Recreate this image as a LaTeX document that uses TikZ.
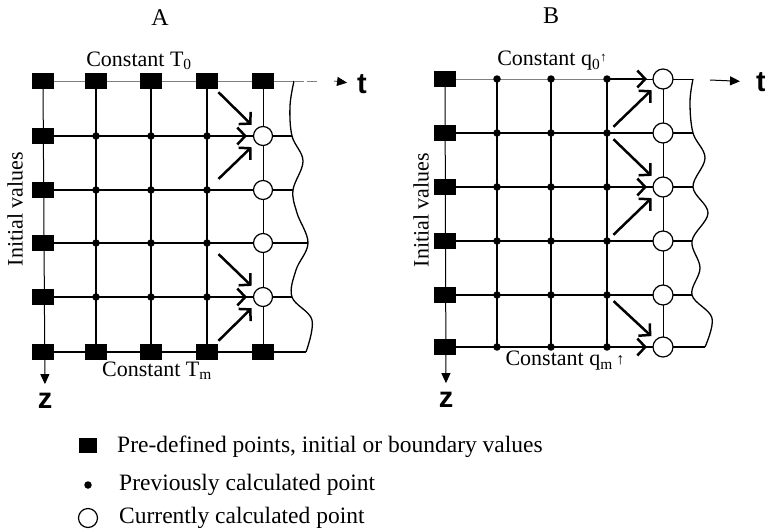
\documentclass[tikz,border=0pt]{standalone}
\usepackage{fontspec}
\setmainfont{Liberation Serif}
\newfontfamily\sansf{Liberation Sans}
\usetikzlibrary{arrows.meta}
\pgfdeclarelayer{bg}
\pgfsetlayers{bg,main}
\tikzset{
  sq/.style={rectangle, fill=black, minimum width=22pt, minimum height=16pt, inner sep=0pt},
  dotp/.style={circle, fill=black, minimum size=7.5pt, inner sep=0pt},
  cur/.style={circle, draw=black, fill=white, line width=1.2pt, minimum size=19pt, inner sep=0pt},
  gridl/.style={line width=1.8pt},
  thinl/.style={line width=1pt},
  topl/.style={line width=1pt, gray},
  wave/.style={line width=1.3pt},
  arr/.style={line width=2.5pt, -{Straight Barb[length=8pt,width=17pt,line width=2.5pt]}, shorten >=16pt},
  tip/.style={-{Triangle[length=10pt,width=9pt,color=black]}},
  lab/.style={inner sep=0pt, font=\fontsize{22}{25}\selectfont},
  leg/.style={inner sep=0pt, anchor=base west, font=\fontsize{23.5}{26}\selectfont},
  axl/.style={inner sep=0pt, font=\sansf\bfseries\fontsize{29}{32}\selectfont},
}
\begin{document}
\begin{tikzpicture}[x=1pt,y=-1pt]
\useasboundingbox (0,0) rectangle (765,530);
% ---------- panel A nodes ----------
\foreach \x [count=\i from 0] in {43,96,151,207,263}{
  \foreach \y [count=\j from 0] in {81,136,190,243,297,352}{
    \ifnum\j=0 \node[sq] (A-\i-\j) at (\x,\y) {};
    \else\ifnum\j=5 \node[sq] (A-\i-\j) at (\x,\y) {};
    \else\ifnum\i=0 \node[sq] (A-\i-\j) at (\x,\y) {};
    \else\ifnum\i=4 \node[cur] (A-\i-\j) at (\x,\y) {};
    \else \node[dotp] (A-\i-\j) at (\x,\y) {};
    \fi\fi\fi\fi
  }
}
% ---------- panel B nodes ----------
\foreach \x [count=\i from 0] in {445,497,551,607,663}{
  \foreach \y [count=\j from 0] in {79,133,187,241,295,347}{
    \ifnum\i=0 \node[sq] (B-\i-\j) at (\x,\y) {};
    \else\ifnum\i=4 \node[cur, minimum size=20pt] (B-\i-\j) at (\x,\y) {};
    \else \node[dotp] (B-\i-\j) at (\x,\y) {};
    \fi\fi
  }
}
% wavy line points
\coordinate (WA0) at (294,81);  \coordinate (WA1) at (292,136);
\coordinate (WA2) at (293,190); \coordinate (WA3) at (308,243);
\coordinate (WA4) at (292,297); \coordinate (WA5) at (306,352);
\coordinate (WB0) at (693,79);  \coordinate (WB1) at (693,133);
\coordinate (WB2) at (693,187); \coordinate (WB3) at (692,241);
\coordinate (WB4) at (692,295); \coordinate (WB5) at (705,347);
% labels
\node[lab, font=\fontsize{24}{26}\selectfont] (lA) at (160,18) {A};
\node[lab, font=\fontsize{24}{26}\selectfont] (lB) at (551,16) {B};
\node[lab] (cT0) at (139,61) {Constant T\textsubscript{0}};
\node[lab] (cTm) at (157,371) {Constant T\textsubscript{m}};
\node[lab] (cq0) at (552,61) {Constant q\textsubscript{0}\raisebox{4pt}{\fontsize{13}{13}\selectfont ↑}};
\node[lab] (cqm) at (565,361) {Constant q\textsubscript{m}\,\raisebox{1pt}{\fontsize{16}{16}\selectfont ↑}};
\node[lab, rotate=90] (ivA) at (15,209) {Initial values};
\node[lab, rotate=90] (ivB) at (421,210) {Initial values};
\node[axl] (tA) at (362,84) {t};
\node[axl] (tB) at (761,82) {t};
\node[axl] (zA) at (45,401) {z};
\node[axl] (zB) at (446,400) {z};
\coordinate (tA1) at (317,81);
\coordinate (tA2) at (334,81);
\coordinate (tB1) at (710,80);
% legend
\node[sq, minimum width=18pt, minimum height=15pt] (Lsq) at (88,445) {};
\node[leg] (L1) at (117,452) {Pre-defined points, initial or boundary values};
\node[dotp] (Ldot) at (88,485) {};
\node[leg] (L2) at (119,490) {Previously calculated point};
\node[cur] (Lcur) at (88,518) {};
\node[leg] (L3) at (119,523) {Currently calculated point};

\begin{pgfonlayer}{bg}
% ---- panel A lines ----
\draw[topl] (A-0-0.center) -- (WA0);
\foreach \j in {1,...,5}{ \draw[gridl] (A-0-\j.center) -- (WA\j); }
\draw[thinl, tip, shorten >=9pt] (A-0-0.center) -- (zA.north);
\foreach \i in {1,2,3}{ \draw[gridl] (A-\i-0.center) -- (A-\i-5.center); }
\draw[thinl] (A-4-0.center) -- (A-4-5.center);
\draw[wave] plot[smooth, tension=0.6] coordinates {(WA0) (290,106) (WA1) (303,161) (WA2) (297,213) (WA3) (296,270) (WA4) (312,320) (WA5)};
\draw[topl, dash pattern=on 10pt off 3pt] (WA0) -- (tA1);
\draw[tip, line width=0.6pt, shorten >=10pt] (tA2) -- (tA.west);
% ---- panel B lines ----
\draw[topl] (B-0-0.center) -- (B-3-0.center);
\draw[thinl] (B-3-0.center) -- (WB0);
\foreach \j in {1,...,5}{ \draw[gridl] (B-0-\j.center) -- (WB\j); }
\draw[thinl, tip, shorten >=9pt] (B-0-0.center) -- (zB.north);
\foreach \i in {1,2,3}{ \draw[gridl] (B-\i-0.center) -- (B-\i-5.center); }
\draw[thinl] (B-4-0.center) -- (B-4-5.center);
\draw[wave] plot[smooth, tension=0.6] coordinates {(WB0) (690,102) (WB1) (705,158) (WB2) (708,213) (WB3) (700,268) (WB4) (712,318) (WB5)};
\draw[thinl, tip, shorten >=16pt] (tB1) -- (tB.west);
\end{pgfonlayer}
% ---- arrows A ----
\draw[arr, shorten <=16pt] (A-3-0.center) -- (A-4-1.center);
\draw[arr] (A-3-1.center) -- (A-4-1.center);
\draw[arr, shorten <=16pt] (A-3-2.center) -- (A-4-1.center);
\draw[arr, shorten <=16pt] (A-3-3.center) -- (A-4-4.center);
\draw[arr] (A-3-4.center) -- (A-4-4.center);
\draw[arr, shorten <=16pt] (A-3-5.center) -- (A-4-4.center);
% ---- arrows B ----
\draw[arr] (B-3-0.center) -- (B-4-0.center);
\draw[arr, shorten <=9pt] (B-3-1.center) -- (B-4-0.center);
\draw[arr, shorten <=9pt] (B-3-1.center) -- (B-4-2.center);
\draw[arr] (B-3-2.center) -- (B-4-2.center);
\draw[arr, shorten <=9pt] (B-3-3.center) -- (B-4-2.center);
\draw[arr, shorten <=9pt] (B-3-4.center) -- (B-4-5.center);
\draw[arr] (B-3-5.center) -- (B-4-5.center);
\end{tikzpicture}
\end{document}
